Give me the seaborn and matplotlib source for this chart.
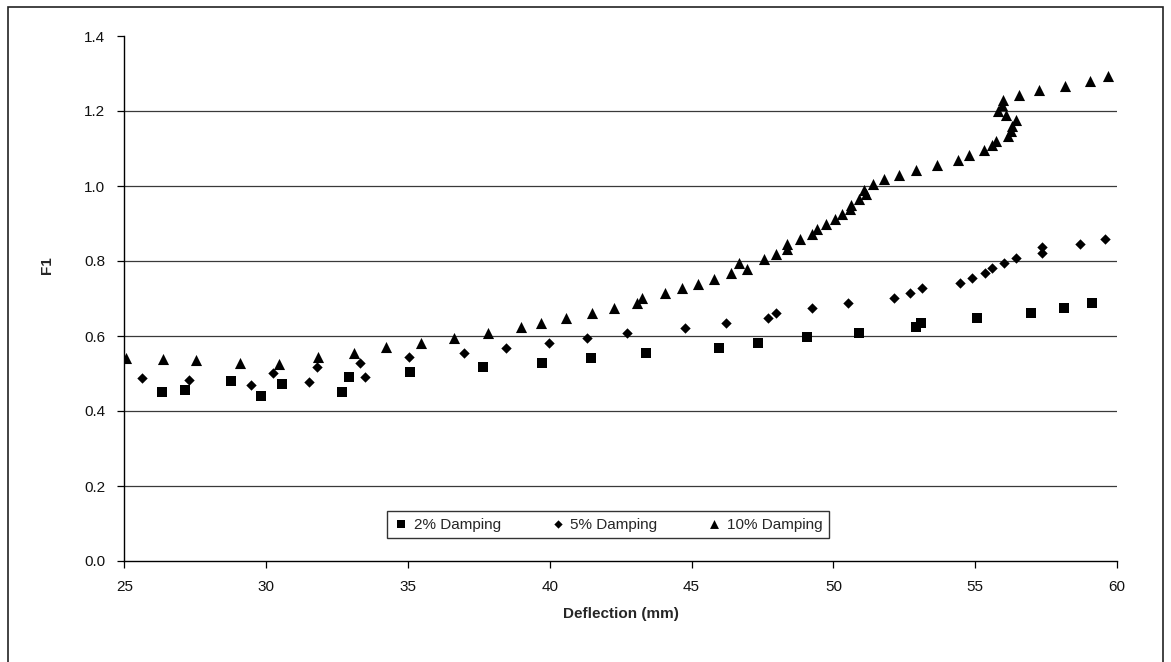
import numpy as np
import pandas as pd
import matplotlib
matplotlib.use("Agg")
import matplotlib.pyplot as plt
import seaborn as sns
from matplotlib.patches import Rectangle

sns.set_theme(style="white")
plt.rcParams['font.family'] = ['Liberation Sans', 'DejaVu Sans']

# ---- data ----
x_2 = [26.32, 27.13, 28.75, 29.81, 30.55, 32.68, 32.92, 35.07, 37.65, 39.71, 41.44,
       43.41, 45.96, 47.35, 49.07, 50.90, 52.90, 53.08, 55.06, 56.97, 58.13, 59.11]
y_2 = [0.450, 0.456, 0.479, 0.441, 0.472, 0.451, 0.490, 0.503, 0.517, 0.529, 0.542,
       0.555, 0.569, 0.582, 0.597, 0.609, 0.623, 0.635, 0.649, 0.662, 0.675, 0.689]

x_5 = [25.61, 27.29, 29.47, 30.25, 31.52, 31.78, 33.31, 33.48, 35.04, 36.98, 38.45,
       39.99, 41.32, 42.71, 44.76, 46.21, 47.70, 47.97, 49.24, 50.50, 52.14, 52.71,
       53.12, 54.48, 54.89, 55.35, 55.61, 56.02, 56.43, 57.37, 57.37, 58.69, 59.58]
y_5 = [0.487, 0.482, 0.470, 0.502, 0.477, 0.517, 0.529, 0.490, 0.543, 0.555, 0.569,
       0.582, 0.595, 0.608, 0.622, 0.635, 0.649, 0.662, 0.675, 0.689, 0.701, 0.714,
       0.727, 0.741, 0.754, 0.767, 0.781, 0.794, 0.807, 0.821, 0.837, 0.845, 0.859]

x_10 = [25.06, 26.35, 27.52, 29.08, 30.45, 31.82, 33.10, 34.22, 35.45, 36.62, 37.83,
        38.97, 39.68, 40.59, 41.50, 42.27, 43.06, 43.26, 44.06, 44.66, 45.21, 45.80,
        46.38, 46.68, 46.96, 47.56, 47.96, 48.38, 48.38, 48.82, 49.23, 49.43, 49.74,
        50.04, 50.32, 50.60, 50.63, 50.90, 51.15, 51.08, 51.40, 51.78, 52.30, 52.91,
        53.67, 54.41, 54.78, 55.30, 55.59, 55.72, 55.82, 55.93, 55.98, 56.10, 56.16,
        56.25, 56.30, 56.43, 56.55, 57.25, 58.15, 59.05, 59.67]
y_10 = [0.541, 0.538, 0.536, 0.529, 0.525, 0.545, 0.555, 0.570, 0.582, 0.595, 0.609,
        0.623, 0.635, 0.649, 0.661, 0.675, 0.689, 0.702, 0.715, 0.727, 0.740, 0.753,
        0.767, 0.794, 0.779, 0.805, 0.819, 0.831, 0.845, 0.858, 0.872, 0.885, 0.898,
        0.911, 0.925, 0.938, 0.949, 0.965, 0.978, 0.989, 1.005, 1.018, 1.029, 1.043,
        1.056, 1.070, 1.083, 1.096, 1.109, 1.121, 1.201, 1.216, 1.229, 1.189, 1.134,
        1.147, 1.161, 1.175, 1.243, 1.256, 1.268, 1.281, 1.294]

series_labels = ["2% Damping", "5% Damping", "10% Damping"]
x_ticks = [25, 30, 35, 40, 45, 50, 55, 60]
y_ticks = [0.0, 0.2, 0.4, 0.6, 0.8, 1.0, 1.2, 1.4]

# ---- figure ----
fig = plt.figure(figsize=(11.71, 6.62), dpi=100)
ax = fig.add_axes([124.3 / 1171, 1 - 561 / 662, (1117 - 124.3) / 1171, (561 - 36) / 662])

# horizontal gridlines
for yv in y_ticks[1:-1]:
    ax.axhline(yv, color="#3a3a3a", lw=0.9, zorder=0)

df2 = pd.DataFrame({"x": x_2, "y": y_2})
df5 = pd.DataFrame({"x": x_5, "y": y_5})
df10 = pd.DataFrame({"x": x_10, "y": y_10})

sns.scatterplot(data=df2, x="x", y="y", ax=ax, marker="s", s=44, color="black",
                edgecolor="black", linewidth=0, label=series_labels[0], zorder=3)
sns.scatterplot(data=df5, x="x", y="y", ax=ax, marker="D", s=28, color="black",
                edgecolor="black", linewidth=0, label=series_labels[1], zorder=3)
sns.scatterplot(data=df10, x="x", y="y", ax=ax, marker="^", s=64, color="black",
                edgecolor="black", linewidth=0, label=series_labels[2], zorder=3)

ax.set_xlim(25, 60)
ax.set_ylim(0, 1.4)
ax.set_xticks(x_ticks)
ax.set_yticks(y_ticks)
ax.set_xticklabels([str(v) for v in x_ticks])
ax.set_yticklabels([f"{v:.1f}" for v in y_ticks])

for s in ["top", "right"]:
    ax.spines[s].set_visible(False)
for s in ["left", "bottom"]:
    ax.spines[s].set_color("black")
    ax.spines[s].set_linewidth(1.0)

ax.tick_params(axis="both", which="both", direction="out", length=4.8, width=0.9,
               color="black", labelsize=11, labelcolor="#111111", pad=9,
               left=True, bottom=True)

ax.set_xlabel("Deflection (mm)", fontsize=11, fontweight="bold")
ax.xaxis.set_label_coords(0.5, -(614 - 561) / 525)
ax.xaxis.label.set_va("center")
ax.set_ylabel("F1", fontsize=11, fontweight="bold")
ax.yaxis.set_label_coords((47 - 124.3) / 992.7, (561 - 265) / 525)
ax.yaxis.label.set_va("center")

leg = ax.legend(loc="center", bbox_to_anchor=(608 / 1171, 1 - 524.5 / 662),
                bbox_transform=fig.transFigure, ncol=3, frameon=True, fancybox=False,
                fontsize=11, handletextpad=0.35, columnspacing=3.2, borderpad=0.4,
                handlelength=1.0, markerscale=0.8, borderaxespad=0)
leg.get_frame().set_edgecolor("black")
leg.get_frame().set_linewidth(1.0)
leg.get_frame().set_facecolor("white")

# outer border of the figure
fig.patches.append(Rectangle((8 / 1171, -0.05), (1163 - 8) / 1171, 1.05 - 7 / 662,
                             transform=fig.transFigure, fill=False, edgecolor="#222222",
                             lw=1.2))

fig.savefig("out.png", dpi=100, facecolor="white")
